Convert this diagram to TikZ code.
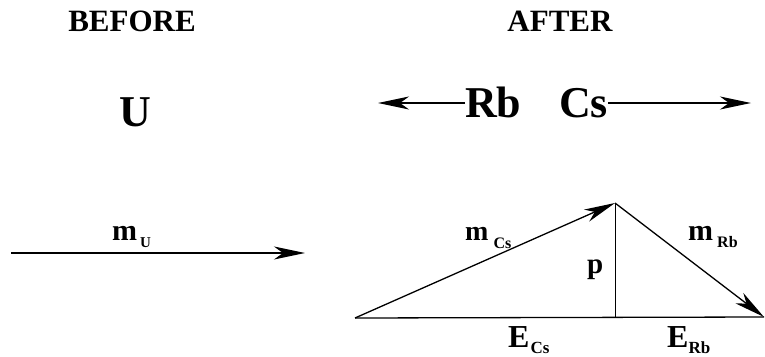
\documentclass[tikz,border=0pt]{standalone}
\usepackage{fontspec}
\setmainfont{Liberation Serif}
\usetikzlibrary{arrows.meta}
\newcommand{\fs}[1]{\fontsize{#1}{#1}\selectfont}
\begin{document}
\begin{tikzpicture}[x=1pt,y=-1pt,
  lbl/.style={inner sep=0pt,anchor=base west,font=\bfseries},
  ttl/.style={inner sep=0pt,anchor=base,font=\bfseries},
  vec/.style={line width=1.3pt,-{Stealth[length=31pt,width=13pt,inset=9pt]}},
  seg/.style={line width=1.3pt},
  thin/.style={line width=1pt}]
\useasboundingbox (0,0) rectangle (765,356);
% titles
\node[ttl] (before) at (132,31) {\fs{31}BEFORE};
\node[ttl] (after) at (560,31.5) {\fs{31}AFTER};
% particles
\node[ttl] (U) at (135,126) {\fs{44}U};
\node[lbl] (Rb) at (465,117) {\fs{44}Rb};
\node[lbl] (Cs) at (559,117) {\fs{44}Cs};
\coordinate (lt) at (378,103);
\coordinate (rt) at (751,103);
\draw[vec] (Rb.west |- lt) -- (lt);
\draw[vec] (Cs.east |- rt) -- (rt);
% before momentum
\coordinate (mu0) at (11,253);
\coordinate (mu1) at (305,253);
\draw[vec] (mu0) -- (mu1);
\node[lbl] (mU) at (112,240) {\fs{30}m\kern3pt\raisebox{-7pt}{\fs{15}U}};
% after triangle
\coordinate (A) at (355,318);
\coordinate (P) at (615,203);
\coordinate (B) at (764,317);
\coordinate (F) at (615,318);
\draw[seg] (A) -- (B);
\draw[thin] (P) -- (F);
\draw[vec] (A) -- (P);
\draw[vec] (P) -- (B);
\node[lbl] (mCs) at (465,240) {\fs{28}m\kern5pt\raisebox{-8pt}{\fs{16}Cs}};
\node[lbl] (mRb) at (688,240) {\fs{30}m\kern4pt\raisebox{-7pt}{\fs{16}Rb}};
\node[lbl] (p) at (587,273) {\fs{29}p};
\node[lbl] (ECs) at (508,347) {\fs{32}E\kern1pt\raisebox{-6pt}{\fs{17}Cs}};
\node[lbl] (ERb) at (667,347) {\fs{32}E\kern0pt\raisebox{-6pt}{\fs{17}Rb}};
\end{tikzpicture}
\end{document}
